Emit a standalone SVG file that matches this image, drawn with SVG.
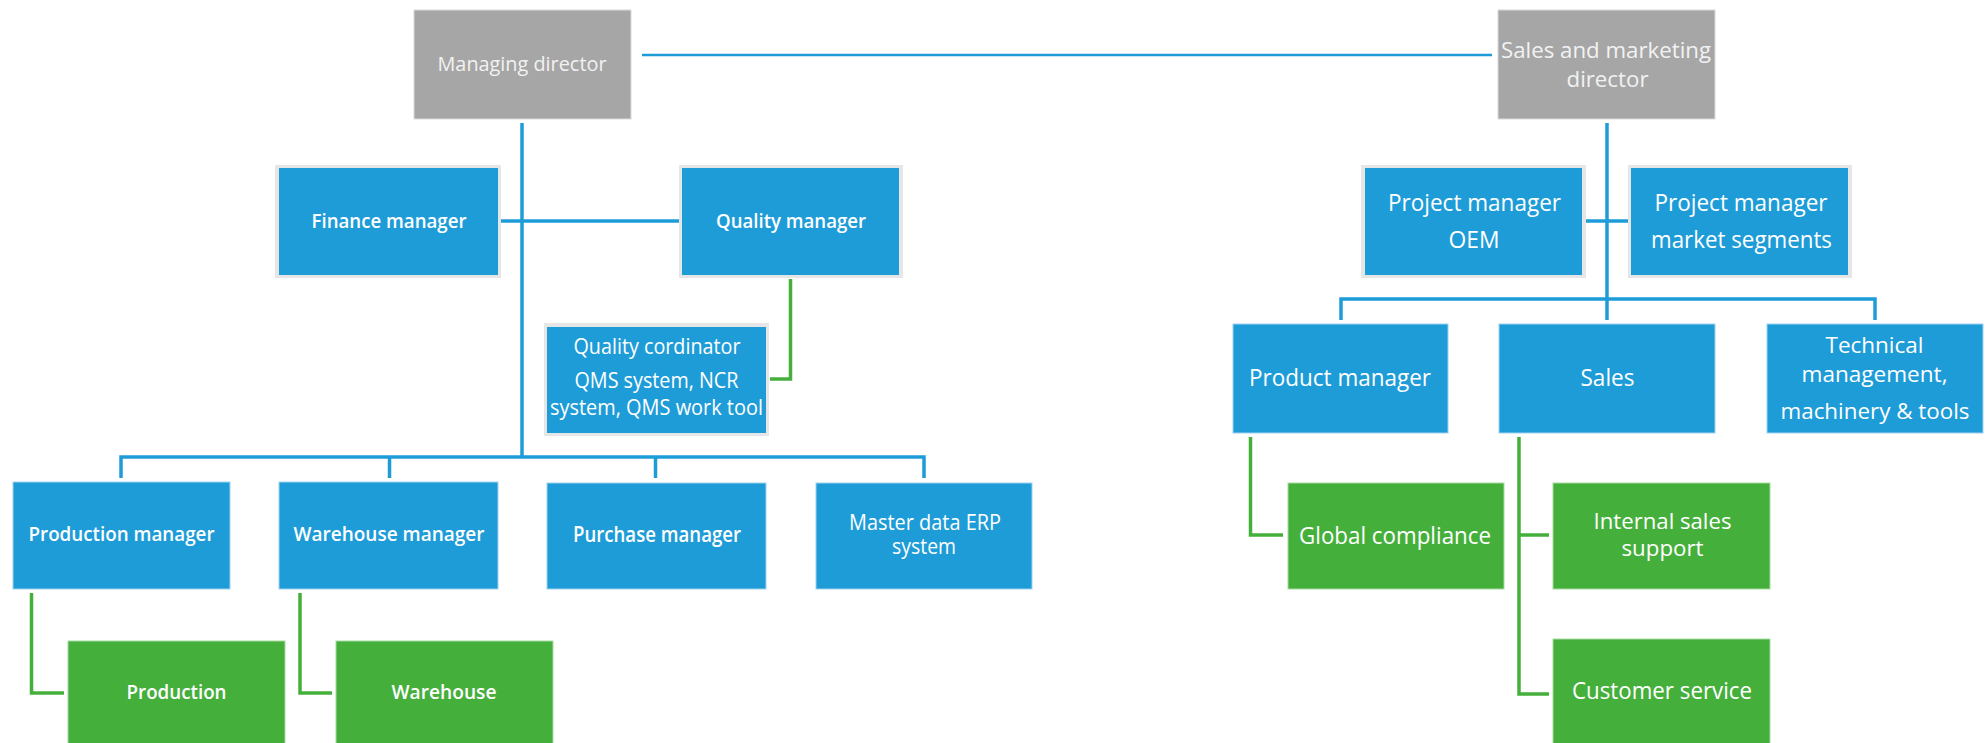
<svg xmlns="http://www.w3.org/2000/svg" width="1988" height="743" viewBox="0 0 1988 743">
<style>
.gray{fill:#A6A6A6;stroke:#DADADA;stroke-width:1}
.blue{fill:#1E9CD8}
.frame{fill:#E6E6E6}
.bl{fill:#1E9CD8;stroke:#9FD2EE;stroke-width:1}
.gr{fill:#45AF3C;stroke:#A6DBA0;stroke-width:1}
text{font-family:"Open Sans","Noto Sans","Liberation Sans",sans-serif;fill:#FFFFFF;text-anchor:middle}
.s{font-size:20px}
.b{font-weight:600}
.m{font-size:21px}
.l{font-size:24px}
.l2{font-size:22px}
.gt{fill:#F2F2F2}
.cb{fill:none;stroke:#1E9CD8;stroke-width:3.5}
.cg{fill:none;stroke:#45AF3C;stroke-width:3.5}
</style>
<rect width="1988" height="743" fill="#FFFFFF"/>
<g id="connectors">
<path class="cb" d="M642,55H1492" style="stroke-width:2.5"/>
<path class="cb" d="M522,123V457"/>
<path class="cb" d="M501,221H679"/>
<path class="cb" d="M121,478V457H924V478"/>
<path class="cb" d="M389.5,457V478M655.5,457V478"/>
<path class="cb" d="M1607,123V299"/>
<path class="cb" d="M1586,221H1628"/>
<path class="cb" d="M1341,320V299H1875V320"/>
<path class="cb" d="M1607,299V320"/>
<path class="cg" d="M790.5,279V379H770"/>
<path class="cg" d="M31.5,593V693H64"/>
<path class="cg" d="M300,593V693H332"/>
<path class="cg" d="M1250.5,437V535H1283"/>
<path class="cg" d="M1519,437V694H1549M1519,535H1549"/>
</g>
<g id="managing-director">
<rect class="gray" x="414" y="10" width="217" height="109"/>
<text class="s gt" x="522" y="71" textLength="169" lengthAdjust="spacingAndGlyphs">Managing director</text>
</g>
<g id="sales-marketing-director">
<rect class="gray" x="1498" y="10" width="217" height="109"/>
<text class="l2 gt" x="1606" y="58" textLength="210" lengthAdjust="spacingAndGlyphs">Sales and marketing</text>
<text class="l2 gt" x="1607.5" y="86.5" textLength="82" lengthAdjust="spacingAndGlyphs">director</text>
</g>
<g id="finance-manager">
<rect class="frame" x="275" y="165" width="226" height="113"/>
<rect class="blue" x="279" y="168" width="219" height="107"/>
<text class="s b" x="389" y="228" textLength="155" lengthAdjust="spacingAndGlyphs">Finance manager</text>
</g>
<g id="quality-manager">
<rect class="frame" x="679" y="165" width="224" height="113"/>
<rect class="blue" x="682" y="168" width="217" height="107"/>
<text class="s b" x="791" y="228" textLength="150" lengthAdjust="spacingAndGlyphs">Quality manager</text>
</g>
<g id="quality-coordinator">
<rect class="frame" x="544" y="323" width="225" height="113"/>
<rect class="blue" x="547" y="327" width="219" height="106"/>
<text class="m" x="657" y="354" textLength="167" lengthAdjust="spacingAndGlyphs">Quality cordinator</text>
<text class="m" x="656.5" y="388" textLength="164" lengthAdjust="spacingAndGlyphs">QMS system, NCR</text>
<text class="m" x="656.5" y="415" textLength="213" lengthAdjust="spacingAndGlyphs">system, QMS work tool</text>
</g>
<g id="production-manager">
<rect class="bl" x="13" y="482" width="217" height="107"/>
<text class="s b" x="121.5" y="541" textLength="186" lengthAdjust="spacingAndGlyphs">Production manager</text>
</g>
<g id="warehouse-manager">
<rect class="bl" x="279" y="482" width="219" height="107"/>
<text class="s b" x="389" y="541" textLength="191" lengthAdjust="spacingAndGlyphs">Warehouse manager</text>
</g>
<g id="purchase-manager">
<rect class="bl" x="547" y="483" width="219" height="106"/>
<text class="m b" x="657" y="541.5" textLength="168" lengthAdjust="spacingAndGlyphs">Purchase manager</text>
</g>
<g id="master-data-erp">
<rect class="bl" x="816" y="483" width="216" height="106"/>
<text class="m" x="925" y="529.5" textLength="152" lengthAdjust="spacingAndGlyphs">Master data ERP</text>
<text class="m" x="924" y="554" textLength="64" lengthAdjust="spacingAndGlyphs">system</text>
</g>
<g id="production">
<rect class="gr" x="68" y="641" width="217" height="108"/>
<text class="s b" x="176.5" y="698.5" textLength="100" lengthAdjust="spacingAndGlyphs">Production</text>
</g>
<g id="warehouse">
<rect class="gr" x="336" y="641" width="217" height="108"/>
<text class="s b" x="444" y="698.5" textLength="105" lengthAdjust="spacingAndGlyphs">Warehouse</text>
</g>
<g id="project-manager-oem">
<rect class="frame" x="1361" y="165" width="225" height="113"/>
<rect class="blue" x="1365" y="168" width="217" height="107"/>
<text class="l" x="1474.5" y="210.5" textLength="173" lengthAdjust="spacingAndGlyphs">Project manager</text>
<text class="l" x="1474" y="248" textLength="51" lengthAdjust="spacingAndGlyphs">OEM</text>
</g>
<g id="project-manager-segments">
<rect class="frame" x="1628" y="165" width="224" height="113"/>
<rect class="blue" x="1631" y="168" width="217" height="107"/>
<text class="l" x="1741" y="210.5" textLength="173" lengthAdjust="spacingAndGlyphs">Project manager</text>
<text class="l" x="1741.5" y="248" textLength="181" lengthAdjust="spacingAndGlyphs">market segments</text>
</g>
<g id="product-manager">
<rect class="bl" x="1233" y="324" width="215" height="109"/>
<text class="l" x="1340" y="386" textLength="182" lengthAdjust="spacingAndGlyphs">Product manager</text>
</g>
<g id="sales">
<rect class="bl" x="1499" y="324" width="216" height="109"/>
<text class="l" x="1607.5" y="386" textLength="54" lengthAdjust="spacingAndGlyphs">Sales</text>
</g>
<g id="technical-management">
<rect class="bl" x="1767" y="324" width="216" height="109"/>
<text class="l2" x="1874.5" y="353" textLength="98" lengthAdjust="spacingAndGlyphs">Technical</text>
<text class="l2" x="1874.5" y="382" textLength="146" lengthAdjust="spacingAndGlyphs">management,</text>
<text class="l2" x="1875" y="418.5" textLength="189" lengthAdjust="spacingAndGlyphs">machinery &amp; tools</text>
</g>
<g id="global-compliance">
<rect class="gr" x="1288" y="483" width="216" height="106"/>
<text class="l" x="1395" y="543.5" textLength="192" lengthAdjust="spacingAndGlyphs">Global compliance</text>
</g>
<g id="internal-sales-support">
<rect class="gr" x="1553" y="483" width="217" height="106"/>
<text class="l2" x="1662.5" y="528.5" textLength="138" lengthAdjust="spacingAndGlyphs">Internal sales</text>
<text class="l2" x="1662.5" y="556" textLength="82" lengthAdjust="spacingAndGlyphs">support</text>
</g>
<g id="customer-service">
<rect class="gr" x="1553" y="639" width="217" height="110"/>
<text class="l" x="1662" y="699" textLength="180" lengthAdjust="spacingAndGlyphs">Customer service</text>
</g>
</svg>
